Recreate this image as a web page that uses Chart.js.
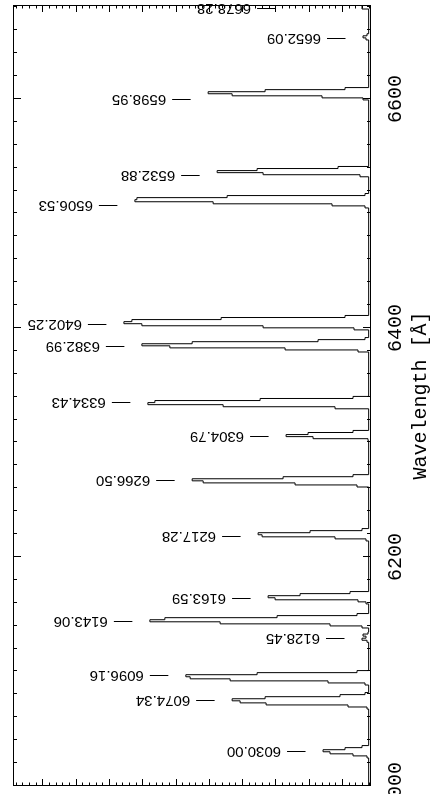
<!DOCTYPE html>
<html>
<head>
<meta charset="utf-8">
<script src="https://cdn.jsdelivr.net/npm/chart.js@4"></script>
<style>
  html, body { margin: 0; padding: 0; background: #fff; overflow: hidden; }
  /* the plot is drawn landscape and turned a quarter turn counter-clockwise */
  #wrap {
    position: absolute; left: 0; top: 0; width: 794px; height: 447px;
    transform-origin: 0 0; transform: translateY(794px) rotate(-90deg);
  }
</style>
</head>
<body>
<div id="wrap"><canvas id="spec" width="794" height="447"></canvas></div>
<script>
// Spectrum: start wavelength of each step [Å] and its counts
const waves = [
  6000.0, 6024.5, 6026.3, 6028.1, 6029.9, 6031.7, 6033.5, 6035.3,
  6067.2, 6069.0, 6070.8, 6072.6, 6074.4, 6076.2, 6078.0, 6079.8, 6081.6,
  6088.2, 6090.0, 6091.8, 6093.6, 6095.4, 6097.2, 6099.0, 6100.8,
  6125.5, 6127.3, 6129.1, 6130.9, 6132.7, 6134.5,
  6138.0, 6139.8, 6141.6, 6143.4, 6145.2, 6147.0, 6148.8, 6150.6,
  6159.0, 6160.8, 6162.6, 6164.4, 6166.2, 6168.0, 6169.8,
  6214.0, 6215.8, 6217.6, 6219.4, 6221.2, 6223.0, 6224.8,
  6261.1, 6262.9, 6264.7, 6266.5, 6268.3, 6270.1, 6271.9,
  6301.5, 6303.3, 6305.1, 6306.9, 6308.7, 6310.5,
  6329.4, 6331.2, 6333.0, 6334.8, 6336.6, 6338.4, 6340.2,
  6379.0, 6380.8, 6382.6, 6384.4, 6386.2, 6388.0, 6389.8, 6391.6,
  6398.3, 6400.1, 6401.9, 6403.7, 6405.5, 6407.3, 6409.1, 6410.9,
  6504.8, 6506.6, 6508.4, 6510.2, 6512.0, 6513.8, 6515.6, 6517.4,
  6532.0, 6533.8, 6535.6, 6537.4, 6539.2, 6541.0,
  6599.1, 6600.9, 6602.7, 6604.5, 6606.3, 6608.1, 6609.9,
  6651.5, 6653.3, 6655.1, 6656.9,
  6678.5, 6684.0, 6690.0
];
const counts = [
  200, 250, 670, 1360, 1570, 910, 400, 200,
  250, 820, 3280, 4060, 4300, 3310, 1060, 310, 200,
  310, 1420, 4360, 5560, 5690, 3550, 550, 200,
  250, 400, 280, 370, 220, 200,
  400, 1360, 4660, 6770, 6320, 2950, 550, 200,
  280, 520, 3010, 3220, 2260, 760, 200,
  280, 1210, 3400, 3520, 1960, 400, 200,
  550, 2410, 5170, 5500, 2770, 670, 200,
  220, 1870, 2680, 2020, 670, 200,
  1210, 4570, 6830, 6620, 3460, 670, 200,
  520, 2710, 6170, 7010, 5500, 1720, 310, 200,
  640, 3370, 7010, 7550, 7310, 4630, 910, 200,
  310, 1300, 4870, 7220, 7160, 4450, 310, 200,
  460, 3370, 4750, 3550, 1120, 200,
  370, 1600, 4300, 5020, 3310, 910, 200,
  280, 370, 250, 200,
  400, 2470, 2470
];

// Identified lines
const lineWaves = [6030.00, 6074.34, 6096.16, 6128.45, 6143.06, 6163.59, 6217.28, 6266.50,
  6304.79, 6334.43, 6382.99, 6402.25, 6506.53, 6532.88, 6598.95, 6652.09, 6678.28];
const lineNames = lineWaves.map(w => w.toFixed(2));

// Axis ranges and tick steps
const waveRange = [6000, 6682];
const countRange = [130, 10880];
const waveTicks = [];
for (let w = 6000; w <= 6680; w += 20) waveTicks.push(w);
const countTicks = [];
for (let c = 200; c <= 10800; c += 200) countTicks.push(c);

const points = waves.map((w, i) => ({ x: w, y: counts[i] }));

// inward tick marks on all four sides plus the frame
const frameTicks = {
  id: 'frameTicks',
  afterDatasetsDraw(chart) {
    const { ctx, chartArea: a, scales: { x, y } } = chart;
    ctx.save();
    ctx.strokeStyle = '#000';
    ctx.lineWidth = 1;
    ctx.strokeRect(a.left + 0.5, a.top + 0.5, a.right - a.left - 1, a.bottom - a.top - 1);
    ctx.beginPath();
    x.ticks.forEach(t => {
      const p = Math.round(x.getPixelForValue(t.value)) + 0.5;
      const len = t.value % 200 === 0 ? 8 : 4;
      ctx.moveTo(p, a.bottom); ctx.lineTo(p, a.bottom - len);
      ctx.moveTo(p, a.top); ctx.lineTo(p, a.top + len);
    });
    y.ticks.forEach(t => {
      const p = Math.round(y.getPixelForValue(t.value)) + 0.5;
      const len = t.value % 1000 === 0 ? 7 : 3.5;
      ctx.moveTo(a.left, p); ctx.lineTo(a.left + len, p);
      ctx.moveTo(a.right, p); ctx.lineTo(a.right - len, p);
    });
    ctx.stroke();
    ctx.restore();
  }
};

// line identifications: a tick and the wavelength, above the local peak
const lineLabels = {
  id: 'lineLabels',
  afterDraw(chart) {
    const { ctx, scales: { x, y } } = chart;
    ctx.save();
    ctx.strokeStyle = '#000';
    ctx.fillStyle = '#000';
    ctx.lineWidth = 1;
    ctx.font = '15px "Liberation Sans", Arial, sans-serif';
    ctx.textBaseline = 'middle';
    ctx.textAlign = 'left';
    lineWaves.forEach((lw, i) => {
      let peak = 0;
      waves.forEach((w, j) => { if (Math.abs(w - lw) < 8) peak = Math.max(peak, counts[j]); });
      const px = Math.round(x.getPixelForValue(lw)) + 0.5;
      const start = y.getPixelForValue(peak) - 17.5;
      ctx.beginPath();
      ctx.moveTo(px, start);
      ctx.lineTo(px, start - 18.5);
      ctx.stroke();
      ctx.save();
      ctx.translate(px, start - 24.5);
      ctx.rotate(-Math.PI / 2);
      ctx.fillText(lineNames[i], 0, 0);
      ctx.restore();
    });
    ctx.restore();
  }
};

const axisFont = { family: '"Liberation Mono", "Courier New", monospace', size: 20 };

new Chart(document.getElementById('spec'), {
  type: 'scatter',
  data: {
    datasets: [{
      data: points,
      showLine: true,
      stepped: true,
      borderColor: '#000',
      borderWidth: 1,
      pointRadius: 0,
      fill: false
    }]
  },
  options: {
    responsive: false,
    animation: false,
    events: [],
    layout: { padding: { top: 13, right: 5, left: 0, bottom: 0 } },
    plugins: { legend: { display: false }, tooltip: { enabled: false } },
    scales: {
      x: {
        type: 'linear',
        position: 'bottom',
        min: waveRange[0],
        max: waveRange[1],
        grid: { display: false, drawTicks: false },
        border: { display: false },
        afterBuildTicks: s => { s.ticks = waveTicks.map(v => ({ value: v })); },
        afterFit: s => { s.height = 76; s.paddingLeft = 0; s.paddingRight = 0; },
        ticks: {
          autoSkip: false,
          maxRotation: 0,
          padding: 13,
          color: '#000',
          font: axisFont,
          callback: v => (v % 200 === 0 ? String(v) : '')
        },
        title: {
          display: true,
          text: 'Wavelength [Å]',
          color: '#000',
          font: axisFont,
          padding: { top: 0, bottom: 14 }
        }
      },
      y: {
        type: 'linear',
        min: countRange[0],
        max: countRange[1],
        grid: { display: false, drawTicks: false },
        border: { display: false },
        afterBuildTicks: s => { s.ticks = countTicks.map(v => ({ value: v })); },
        afterFit: s => { s.width = 8; },
        ticks: { display: false }
      }
    }
  },
  plugins: [frameTicks, lineLabels]
});
</script>
</body>
</html>
